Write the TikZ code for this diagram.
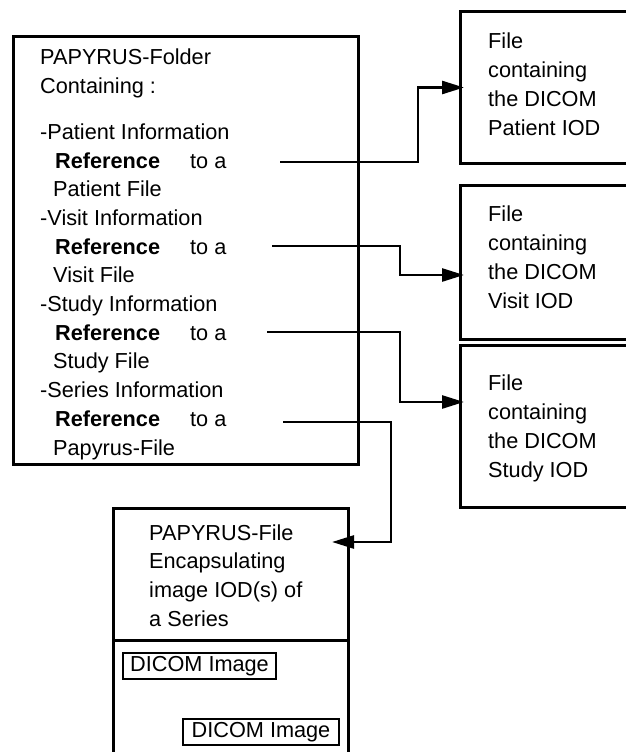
\documentclass[tikz,border=0pt]{standalone}
\usepackage{fontspec}
\setmainfont{Liberation Sans}
\usetikzlibrary{arrows.meta}
\begin{document}
\begin{tikzpicture}[x=1pt,y=-1pt,
  frame/.style={draw, line width=3pt, inner sep=0pt, outer sep=0pt, anchor=north west},
  txt/.style={font=\fontsize{21.7}{28.7}\selectfont, inner sep=0pt, anchor=base west},
  imgbox/.style={draw, line width=1.8pt, inner sep=0pt, minimum height=26pt,
    font=\fontsize{21.7}{28.7}\selectfont, text height=15.4pt, text depth=4.5pt},
  conn/.style={line width=2.6pt, -{Triangle[length=22pt,width=13pt]}, shorten >=-4pt},
]
\useasboundingbox (0,0) rectangle (625,752);
% boxes
\node[frame, minimum width=345pt, minimum height=427pt] (folder) at (13,37) {};
\node[frame, minimum width=240pt, minimum height=151pt] (pat) at (460,12) {};
\node[frame, minimum width=240pt, minimum height=154pt] (vis) at (460,185) {};
\node[frame, minimum width=240pt, minimum height=162pt] (stu) at (460,345) {};
\node[frame, minimum width=235pt, minimum height=132pt] (ptop) at (113,508) {};
\node[frame, minimum width=235pt, minimum height=150pt] (pbot) at (113,640) {};
% folder text
\node[txt] (f1) at (40,64.3) {PAPYRUS-Folder};
\node[txt] (f2) at (40,93.3) {Containing :};
\node[txt] (f3) at (40,139.3) {-Patient Information};
\node[txt] (f4) at (55,168) {\textbf{Reference}};
\node[txt] (f4b) at (190,168) {to a};
\node[txt] (f5) at (53,196.7) {Patient File};
\node[txt] (f6) at (40,225.4) {-Visit Information};
\node[txt] (f7) at (55,254.1) {\textbf{Reference}};
\node[txt] (f7b) at (190,254.1) {to a};
\node[txt] (f8) at (53,282.8) {Visit File};
\node[txt] (f9) at (40,311.5) {-Study Information};
\node[txt] (f10) at (55,340.2) {\textbf{Reference}};
\node[txt] (f10b) at (190,340.2) {to a};
\node[txt] (f11) at (53,368.9) {Study File};
\node[txt] (f12) at (40,397.6) {-Series Information};
\node[txt] (f13) at (55,426.3) {\textbf{Reference}};
\node[txt] (f13b) at (190,426.3) {to a};
\node[txt] (f14) at (53,455) {Papyrus-File};
% right boxes text
\node[txt] (p1) at (488,48.3) {File};
\node[txt] (p2) at (488,77.3) {containing};
\node[txt] (p3) at (488,106.3) {the DICOM};
\node[txt] (p4) at (488,135.3) {Patient IOD};
\node[txt] (v1) at (488,221.7) {File};
\node[txt] (v2) at (488,250.7) {containing};
\node[txt] (v3) at (488,279.7) {the DICOM};
\node[txt] (v4) at (488,308.7) {Visit IOD};
\node[txt] (s1) at (488,390) {File};
\node[txt] (s2) at (488,419) {containing};
\node[txt] (s3) at (488,448) {the DICOM};
\node[txt] (s4) at (488,477) {Study IOD};
% papyrus file text
\node[txt] (e1) at (149,540) {PAPYRUS-File};
\node[txt] (e2) at (149,568.7) {Encapsulating};
\node[txt] (e3) at (149,597.4) {image IOD(s) of};
\node[txt] (e4) at (149,626.1) {a Series};
\node[imgbox, minimum width=153pt] (img1) at (199.5,666) {DICOM Image};
\node[imgbox, minimum width=156pt] (img2) at (261,732) {DICOM Image};
% connectors
\coordinate (cpat) at (280,162);
\coordinate (cvis) at (272,246);
\coordinate (cstu) at (267,332);
\coordinate (cser) at (283,422);
\draw[conn] (cpat) -- ++(138,0) |- (pat.west);
\draw[conn] (cvis) -- ++(128,0) |- ([yshift=-13pt]vis.west);
\draw[conn] (cstu) -- ++(133,0) |- ([yshift=24pt]stu.west);
\draw[conn, shorten >=-16pt] (cser) -- ++(108,0) |- ([yshift=32pt]ptop.east);
\end{tikzpicture}
\end{document}
